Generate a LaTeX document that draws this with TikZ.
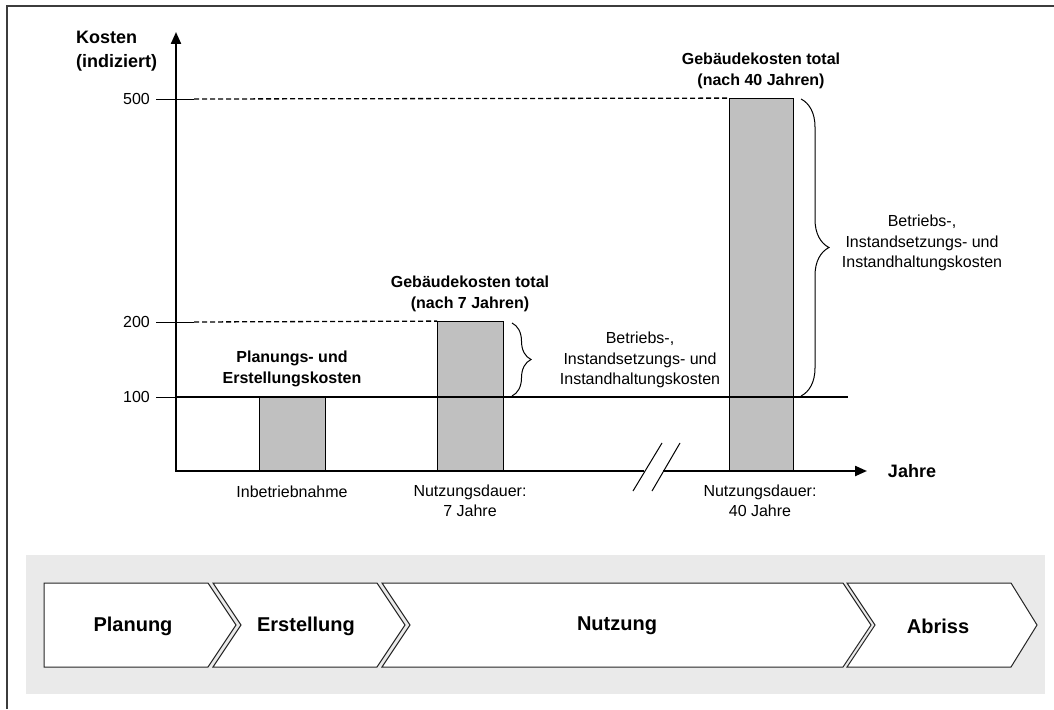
\documentclass[tikz,border=0pt]{standalone}
\usepackage{fontspec}
\setmainfont{Liberation Sans}
\usetikzlibrary{arrows.meta,decorations.pathreplacing}
\definecolor{barfill}{HTML}{C0C0C0}
\definecolor{bandfill}{HTML}{EAEAEA}
\definecolor{framecol}{HTML}{3C3C3C}
\tikzset{
  lbl/.style={font=\fontsize{16}{20.5}\selectfont, align=center, inner sep=0pt},
  blbl/.style={lbl, font=\fontsize{16}{20.5}\selectfont\bfseries},
  axlbl/.style={lbl, font=\fontsize{18}{23.5}\selectfont\bfseries},
  phase/.style={font=\fontsize{20}{22}\selectfont\bfseries, inner sep=0pt},
  chevron/.style={draw=black!85, line width=1pt, fill=white},
  bar/.style={draw=black, line width=0.9pt, fill=barfill, inner sep=0pt, minimum width=66pt},
  axis/.style={line width=2.2pt, -{Triangle[length=12pt,width=10pt]}},
  guide/.style={line width=1.3pt, dash pattern=on 5pt off 3pt},
  tick/.style={line width=1pt},
  cbrace/.style={line width=1pt, decorate},
}
\begin{document}
\begin{tikzpicture}[x=1pt,y=-1pt]
\useasboundingbox (0,0) rectangle (1054,709);

% outer frame
\draw[framecol, line width=1.6pt] (7,709) -- (7,6) -- (1054,6);

% phase band
\fill[bandfill] (26,555) rectangle (1045,694);
\draw[chevron] (44,583) -- (208,583) -- (236,625) -- (208,667) -- (44,667) -- cycle;
\draw[chevron] (213,583) -- (377,583) -- (405,625) -- (377,667) -- (213,667) -- (241,625) -- cycle;
\draw[chevron] (382,583) -- (843,583) -- (871,625) -- (843,667) -- (382,667) -- (410,625) -- cycle;
\draw[chevron] (847,583) -- (1011,583) -- (1037,625) -- (1011,667) -- (847,667) -- (875,625) -- cycle;
\node[phase] (pPlan) at (133,626) {Planung};
\node[phase] (pErst) at (306,626) {Erstellung};
\node[phase] (pNutz) at (617,626) {Nutzung};
\node[phase] (pAbr) at (938,626) {Abriss};

% bars
\node[bar, anchor=south west, minimum height=74pt] (bar1) at (259,471) {};
\node[bar, anchor=south west, minimum height=149pt] (bar2) at (437,471) {};
\node[bar, anchor=south west, minimum width=64pt, minimum height=372pt] (bar3) at (729,471) {};

% value levels
\coordinate (o) at (176,471);
\coordinate (t500) at (156,99);
\coordinate (t200) at (156,322);
\coordinate (t100) at (156,397);
\coordinate (d500) at (194,99);
\coordinate (d200) at (194,322);
\coordinate (l100) at (848,397);
\draw[tick] (t500) -- (d500);
\draw[tick] (t200) -- (d200);
\draw[tick] (t100) -- (176,397);
\draw[guide] (d500) -- (bar3.north west);
\draw[guide] (d200) -- (bar2.north west);
\draw[line width=2.2pt] (176,397) -- (l100);

% axes
\coordinate (ytop) at (176,32);
\coordinate (xbreakA) at (644,471);
\coordinate (xbreakB) at (663,471);
\coordinate (xend) at (867,471);
\draw[axis] (o) -- (ytop);
\draw[line width=2.2pt] (175,471) -- (xbreakA);
\draw[axis] (xbreakB) -- (xend);
\draw[line width=1pt] (633,491) -- (662,443);
\draw[line width=1pt] (652,491) -- (680,443);

% braces
\coordinate (bs1) at (512,323);
\coordinate (bs2) at (512,396);
\coordinate (bl1) at (801,99);
\coordinate (bl2) at (801,396);
\draw[cbrace, decoration={brace, amplitude=19pt}] (bs1) -- (bs2);
\draw[cbrace, decoration={brace, amplitude=28pt}] (bl1) -- (bl2);

% labels
\node[axlbl, anchor=west, align=left] (ylab) at (76,51) {Kosten\\(indiziert)};
\node[axlbl] (xlab) at (912,471) {Jahre};
\node[lbl, anchor=east] (v500) at (150,99) {500};
\node[lbl, anchor=east] (v200) at (150,322) {200};
\node[lbl, anchor=east] (v100) at (150,397) {100};
\node[blbl] (g40) at (761,71) {Gebäudekosten total\\(nach 40 Jahren)};
\node[blbl] (g7) at (470,294) {Gebäudekosten total\\(nach 7 Jahren)};
\node[blbl] (gPE) at (292,369) {Planungs- und\\Erstellungskosten};
\node[lbl] (bk7) at (640,360) {Betriebs-,\\Instandsetzungs- und\\Instandhaltungskosten};
\node[lbl] (bk40) at (922,243) {Betriebs-,\\Instandsetzungs- und\\Instandhaltungskosten};
\node[lbl] (inb) at (292,492) {Inbetriebnahme};
\node[lbl] (nd7) at (470,501) {Nutzungsdauer:\\7 Jahre};
\node[lbl] (nd40) at (760,501) {Nutzungsdauer:\\40 Jahre};
\end{tikzpicture}
\end{document}
